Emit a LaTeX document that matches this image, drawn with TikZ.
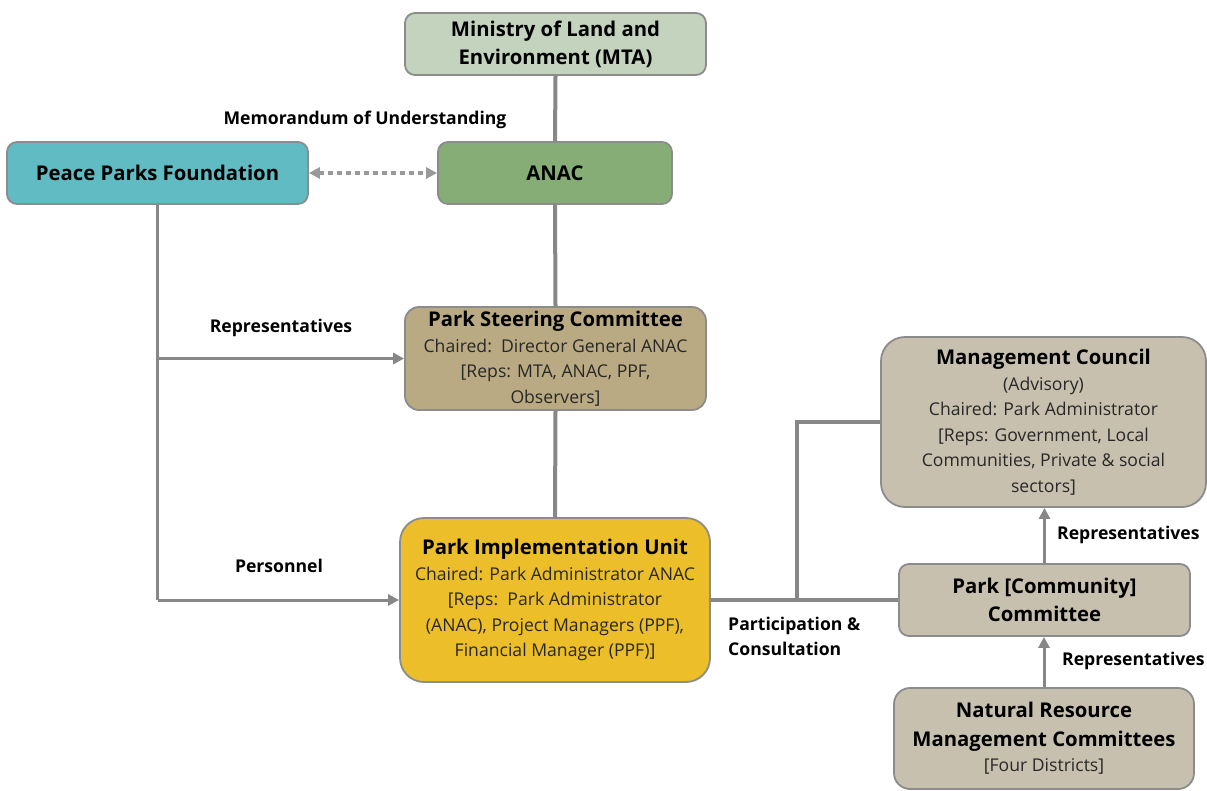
\documentclass[tikz,border=0pt]{standalone}
\usepackage{fontspec}
\setmainfont{Open Sans}
\usetikzlibrary{arrows.meta}
\definecolor{cmta}{RGB}{195,211,189}
\definecolor{canac}{RGB}{134,173,118}
\definecolor{cppf}{RGB}{96,187,195}
\definecolor{cpsc}{RGB}{185,170,131}
\definecolor{cpiu}{RGB}{235,190,42}
\definecolor{cgray}{RGB}{199,192,174}
\definecolor{cline}{RGB}{135,135,135}
\definecolor{cborder}{RGB}{140,140,140}
\definecolor{cbody}{RGB}{40,40,40}
\tikzset{
  boxbase/.style={draw=cborder, line width=1.8pt, align=center, inner sep=0pt, text=black},
  ttlbox/.style={boxbase, font=\fontsize{20.3}{28}\selectfont\bfseries},
  bodybox/.style={boxbase, font=\fontsize{17.6}{25.5}\selectfont},
  conn/.style={draw=cline, line width=4pt},
  thinconn/.style={draw=cline, line width=3pt},
  arr/.style={-{Triangle[length=11pt,width=11pt]}},
  lbl/.style={font=\fontsize{17.6}{25}\selectfont\bfseries, inner sep=0pt, align=left},
}
\newcommand{\bodytxt}{\fontsize{17.6}{25.5}\selectfont\mdseries\color{cbody}}
\newcommand{\ttltxt}{\fontsize{20.3}{28}\selectfont\bfseries\color{black}}
\begin{document}
\begin{tikzpicture}[x=1pt,y=-1pt]
\useasboundingbox (0,0) rectangle (1207,790);
% boxes
\node[ttlbox, fill=cmta, rounded corners=10pt, minimum width=301pt, minimum height=62pt] (mta) at (555.5,44) {Ministry of Land and\\Environment (MTA)};
\node[ttlbox, fill=canac, rounded corners=10pt, minimum width=234pt, minimum height=62pt] (anac) at (555,173) {ANAC};
\node[ttlbox, fill=cppf, rounded corners=10pt, minimum width=301pt, minimum height=62pt] (ppf) at (157.5,173) {Peace Parks Foundation};
\node[bodybox, fill=cpsc, rounded corners=14pt, minimum width=301pt, minimum height=103pt] (psc) at (555.5,358.5) {\ttltxt Park Steering Committee\\\bodytxt Chaired:\ \ Director General ANAC\\\bodytxt [Reps: MTA, ANAC, PPF,\\\bodytxt Observers]};
\node[bodybox, fill=cpiu, rounded corners=24pt, minimum width=310pt, minimum height=164pt] (piu) at (555,600) {\ttltxt Park Implementation Unit\\\bodytxt Chaired: Park Administrator ANAC\\\bodytxt [Reps:\ \ Park Administrator\\\bodytxt (ANAC), Project Managers (PPF),\\\bodytxt Financial Manager (PPF)]};
\node[bodybox, fill=cgray, rounded corners=24pt, minimum width=325pt, minimum height=170pt] (mc) at (1043.5,422) {\ttltxt Management Council\\\bodytxt (Advisory)\\\bodytxt Chaired: Park Administrator\\\bodytxt [Reps: Government, Local\\\bodytxt Communities, Private \& social\\\bodytxt sectors]};
\node[ttlbox, fill=cgray, rounded corners=10pt, minimum width=291pt, minimum height=72pt] (pcc) at (1044.5,600) {Park [Community]\\Committee};
\node[bodybox, fill=cgray, rounded corners=16pt, minimum width=300pt, minimum height=101pt] (nrmc) at (1044,738.5) {\ttltxt Natural Resource\\[3pt]\ttltxt Management Committees\\\bodytxt [Four Districts]};
% connectors
\draw[conn] (mta.south) -- (anac.north);
\draw[conn] (anac.south) -- (psc.north);
\draw[conn] (psc.south) -- (piu.north);
\draw[draw=cline!85, line width=4pt, dash pattern=on 5pt off 4pt, {Triangle[length=11pt,width=11pt]}-{Triangle[length=11pt,width=11pt]}] (ppf.east) -- (anac.west);
\draw[thinconn] (ppf.south) -- (ppf.south |- piu.west);
\draw[thinconn, arr] (ppf.south |- piu.west) -- (piu.west);
\draw[thinconn, arr] (ppf.south |- psc.west) -- (psc.west);
\draw[conn] (piu.east) -- (pcc.west);
\coordinate (j) at (797,600);
\draw[conn] (j) -- (j |- mc.west) -- (mc.west);
\draw[thinconn, arr] (pcc.north) -- (pcc.north |- mc.south);
\draw[thinconn, arr] (nrmc.north) -- (nrmc.north |- pcc.south);
% labels
\node[lbl] (lmou) at (365,120) {Memorandum of Understanding};
\node[lbl] (lrep1) at (281,328) {Representatives};
\node[lbl] (lpers) at (279,566) {Personnel};
\node[lbl, anchor=west] (lpart) at (728,636.5) {Participation \&\\Consultation};
\node[lbl, anchor=west] (lrep2) at (1057,535) {Representatives};
\node[lbl, anchor=west] (lrep3) at (1062,661) {Representatives};
\end{tikzpicture}
\end{document}
